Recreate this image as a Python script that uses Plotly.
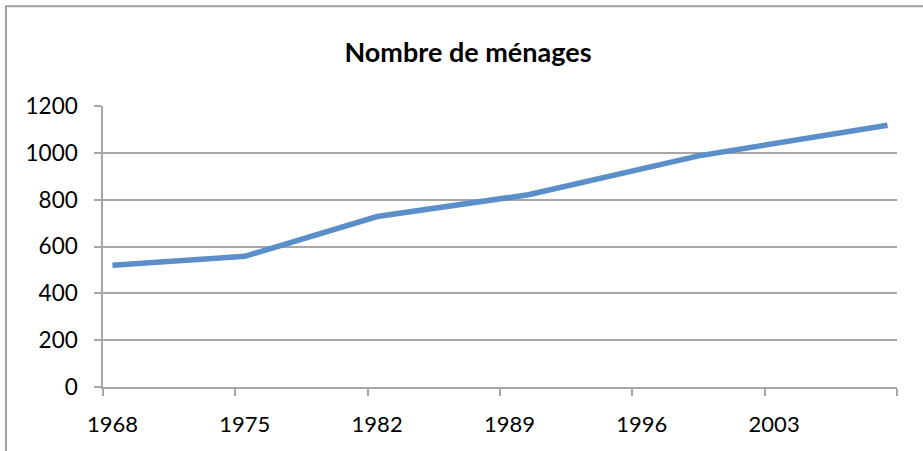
import plotly.graph_objects as go

years = [1968, 1975, 1982, 1990, 1999, 2009]
menages = [520, 558, 728, 821, 987, 1118]
x_labels = ["1968", "1975", "1982", "1989", "1996", "2003"]
x_label_vals = [1968, 1975, 1982, 1989, 1996, 2003]
x_tick_marks = [1967.5, 1974.5, 1981.5, 1988.5, 1995.5, 2002.5, 2009.5]
y_ticks = [0, 200, 400, 600, 800, 1000, 1200]

W, H = 923, 451
L, R, T, B = 103, 26, 106, 63.5
pw, ph = W - L - R, H - T - B

grid = "#a6a6a6"
font = "Lato, 'Open Sans', sans-serif"

fig = go.Figure()
fig.add_trace(go.Scatter(
    x=years, y=menages, mode="lines",
    line=dict(color="#5B8FC9", width=5.5),
    hoverinfo="skip", showlegend=False,
))
# invisible trace on secondary x axis to carry the labels
fig.add_trace(go.Scatter(x=[years[0]], y=[menages[0]], xaxis="x2", mode="markers",
                         marker=dict(opacity=0), showlegend=False, hoverinfo="skip"))

xr = [x_tick_marks[0], x_tick_marks[-1]]

# chart-area border (left and top edges)
bx = (6 - L) / pw
by = (H - B - 6) / ph
fig.add_shape(type="path", xref="paper", yref="paper",
              path=f"M {bx} {-0.5} L {bx} {by} L 1.2 {by}",
              line=dict(color="#a0a0a0", width=2))

fig.update_layout(
    width=W, height=H,
    margin=dict(l=L, r=R, t=T, b=B),
    paper_bgcolor="white", plot_bgcolor="white",
    font=dict(family=font, size=22, color="black"),
    title=dict(text="<b>Nombre de ménages</b>", x=468 / W, xanchor="center",
               y=1 - 53 / H, yanchor="middle",
               font=dict(family=font, size=27, color="black")),
    xaxis=dict(range=xr, tickvals=x_tick_marks, showticklabels=False,
               ticks="outside", ticklen=7, tickcolor=grid, tickwidth=1.5,
               showgrid=False, showline=True, linecolor=grid, linewidth=1.5,
               zeroline=False, fixedrange=True),
    xaxis2=dict(range=xr, overlaying="x", anchor="y", side="bottom",
                tickvals=x_label_vals, ticktext=x_labels, ticks="",
                showgrid=False, showline=False, zeroline=False,
                ticklabelstandoff=22, tickfont=dict(size=22)),
    yaxis=dict(range=[0, 1200], tickvals=y_ticks,
               ticks="outside", ticklen=7, tickcolor=grid, tickwidth=1.5,
               showgrid=True, gridcolor=grid, gridwidth=1.5,
               showline=True, linecolor=grid, linewidth=1.5,
               zeroline=False, ticklabelstandoff=12, tickfont=dict(size=22.5)),
)

fig.write_html("out.html", config={"displayModeBar": False},
               post_script="document.body.style.margin='0';document.body.style.overflow='hidden';")
